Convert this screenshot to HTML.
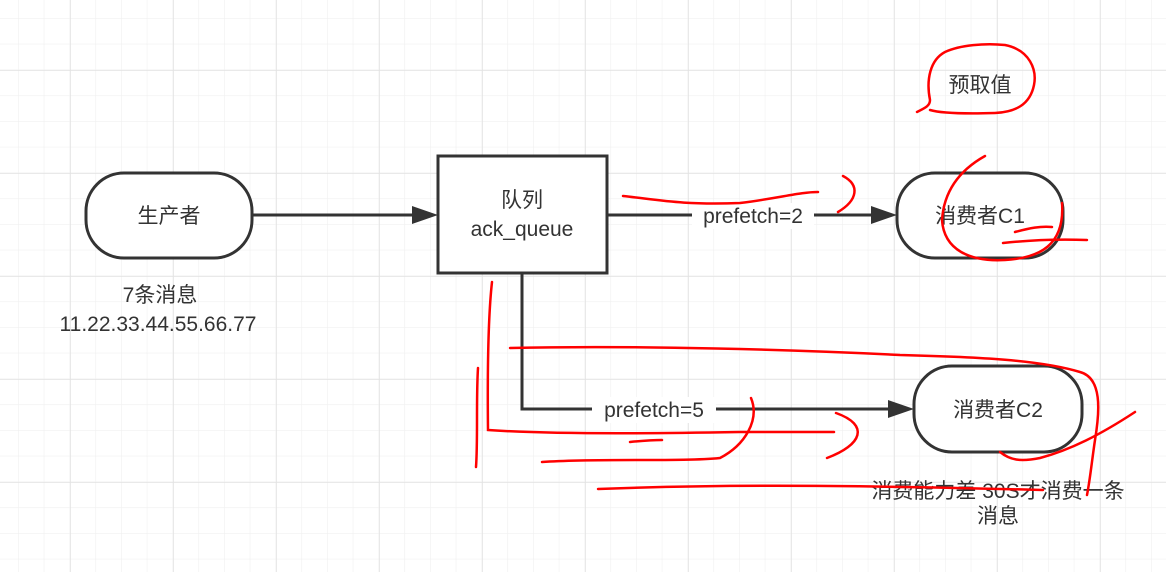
<!DOCTYPE html>
<html><head><meta charset="utf-8"><style>
html,body{margin:0;padding:0;background:#fff;}
svg{display:block;}
text{font-family:"Liberation Sans","Noto Sans CJK SC",sans-serif;fill:#333;}
</style></head><body>
<svg width="1166" height="572" viewBox="0 0 1166 572" xmlns="http://www.w3.org/2000/svg">
<defs>
<pattern id="minor" x="18" y="18" width="25.75" height="25.75" patternUnits="userSpaceOnUse">
<path d="M0 0H25.75M0 0V25.75" stroke="#f0f0f0" stroke-width="1.2" fill="none"/>
</pattern>
<pattern id="major" x="70" y="70" width="103" height="103" patternUnits="userSpaceOnUse">
<path d="M0 0H103M0 0V103" stroke="#e2e2e2" stroke-width="1.5" fill="none"/>
</pattern>
</defs>
<rect width="1166" height="572" fill="#fff"/>
<rect width="1166" height="572" fill="url(#minor)"/>
<rect width="1166" height="572" fill="url(#major)"/>

<g stroke="#333" stroke-width="3" fill="#fff">
<rect x="86" y="173" width="166" height="85" rx="38"/>
<rect x="438" y="156" width="169" height="117"/>
<rect x="897" y="173" width="166" height="85" rx="38"/>
<rect x="914" y="366" width="168" height="86" rx="38"/>
</g>
<g stroke="#333" stroke-width="3" fill="none">
<path d="M252 215H414"/>
<path d="M607 215H873"/>
<path d="M522 273V409H890"/>
</g>
<g fill="#333">
<path d="M438 215L412 206V224Z"/>
<path d="M897 215L871 206V224Z"/>
<path d="M914 409L888 400V418Z"/>
</g>
<rect x="692" y="203" width="122" height="26" fill="#fff"/>
<rect x="592" y="397" width="124" height="26" fill="#fff"/>

<g font-size="21" text-anchor="middle">
<text x="169" y="223">生产者</text>
<text x="522" y="207">队列</text>
<text x="522" y="236">ack_queue</text>
<text x="980" y="223">消费者C1</text>
<text x="998" y="417">消费者C2</text>
<text x="753" y="223">prefetch=2</text>
<text x="654" y="417">prefetch=5</text>
<text x="160" y="302">7条消息</text>
<text x="158" y="331">11.22.33.44.55.66.77</text>
<text x="980" y="92">预取值</text>
<text x="998" y="498">消费能力差 30S才消费一条</text>
<text x="998" y="523">消息</text>
</g>

<g stroke="#f00" stroke-width="2.5" fill="none" stroke-linecap="round">
<path d="M917 112C925 108 930 106 930 100C926 80 930 60 945 52C960 45 985 43 1005 45C1030 50 1037 70 1034 85C1030 105 1015 112 995 113C960 114 940 113 930 110"/>
<path d="M623 196C660 200 680 205 740 203C780 198 800 192 818 192"/>
<path d="M843 176C860 185 858 200 838 212"/>
<path d="M985 156C960 170 944 190 942 220C944 250 970 262 1005 260C1040 258 1065 245 1062 203"/>
<path d="M1015 232C1030 228 1040 226 1052 227"/>
<path d="M1003 243C1030 240 1060 239 1087 240"/>
<path d="M492 282C490 300 487 340 488 430C560 435 680 433 740 432C780 432 810 432 834 432"/>
<path d="M478 368C476 400 478 440 476 467"/>
<path d="M510 348C640 345 800 350 900 355C980 357 1040 360 1080 372C1102 378 1100 410 1095 440C1092 460 1090 480 1087 495"/>
<path d="M630 442C650 440 660 440 662 440"/>
<path d="M751 398C760 420 745 445 720 458C680 462 600 458 542 462"/>
<path d="M836 413C870 425 862 445 827 458"/>
<path d="M1135 412C1100 435 1070 450 1040 458C1020 462 1010 460 1000 452"/>
<path d="M598 489C700 485 820 484 1043 490"/>
</g>
</svg>
</body></html>
